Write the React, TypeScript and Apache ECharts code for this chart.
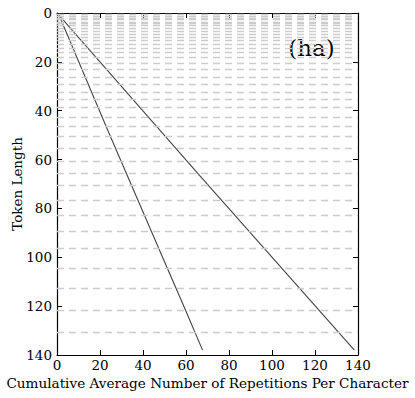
import React, { useEffect, useRef } from "react";
import * as echarts from "echarts";

const xTicks = [0, 20, 40, 60, 80, 100, 120, 140];
const yTicks = [0, 20, 40, 60, 80, 100, 120, 140];

// Line A (steep): [repetitions, token length]
const lineA: [number, number][] = [
  [1, 1],
  [23.5, 47.8],
  [49.6, 101],
  [59.7, 121.5],
  [67.7, 138],
];
// Line B (diagonal)
const lineB: [number, number][] = [
  [1, 1],
  [66.7, 66.9],
  [138.3, 138],
];
// Dashed horizontal reference levels (token length)
const hLevels = [
  0.7, 1.4, 2.0, 2.7, 3.6, 4.4, 5.2, 6.3, 7.5, 8.6, 9.8, 11.2, 12.7, 14.5, 16.1,
  18.0, 20.4, 23.0, 26.2, 29.3, 32.3, 35.5, 38.7, 42.5, 46.4, 50.5, 55.5, 60.5,
  65.5, 70.5, 76.6, 82.8, 89.5, 96.5, 104.5, 112.6, 121.6, 130.7,
];
const panelLabel = "(ha)";
const xName = "Cumulative Average Number of Repetitions Per Character";
const yName = "Token Length";

const FONT = "DejaVu Serif";

export default function App() {
  const ref = useRef<HTMLDivElement>(null);
  useEffect(() => {
    document.body.style.margin = "0";
    const chart = echarts.init(ref.current!, null, { renderer: "svg" });
    const axisCommon = {
      min: 0,
      max: 140,
      interval: 20,
      axisLine: { show: true, onZero: false, lineStyle: { color: "#000", width: 1.2 } },
      axisTick: { show: true, inside: true, length: 5, lineStyle: { color: "#000" } },
      splitLine: { show: false },
    };
    chart.setOption({
      animation: false,
      backgroundColor: "#fff",
      textStyle: { fontFamily: FONT },
      grid: { left: 57, top: 13, width: 301, height: 342, containLabel: false, outerBoundsMode: "none" },
      xAxis: [
        {
          type: "value",
          position: "bottom",
          ...axisCommon,
          axisLabel: { show: true, color: "#000", fontFamily: FONT, fontSize: 13.5, margin: 3, formatter: (v: number) => (xTicks.includes(v) ? String(v) : "") },
          name: xName,
          nameLocation: "middle",
          nameGap: 21,
          nameMoveOverlap: false,
          nameTextStyle: { color: "#000", fontFamily: FONT, fontSize: 13.6 },
        },
        {
          type: "value",
          position: "top",
          ...axisCommon,
          axisLabel: { show: false },
        },
      ],
      yAxis: [
        {
          type: "value",
          position: "left",
          inverse: true,
          ...axisCommon,
          axisLabel: { show: true, color: "#000", fontFamily: FONT, fontSize: 13.5, margin: 5, formatter: (v: number) => (yTicks.includes(v) ? String(v) : "") },
          name: yName,
          nameLocation: "middle",
          nameGap: 33,
          nameMoveOverlap: false,
          nameTextStyle: { color: "#000", fontFamily: FONT, fontSize: 13.5 },
        },
        {
          type: "value",
          position: "right",
          inverse: true,
          ...axisCommon,
          axisLabel: { show: false },
        },
      ],
      graphic: [
        {
          type: "text",
          x: 311.5,
          y: 48,
          style: {
            text: panelLabel,
            fontFamily: FONT,
            fontSize: 23,
            fill: "#000",
            align: "center",
            verticalAlign: "middle",
          },
        },
      ],
      series: [
        {
          type: "line",
          data: [],
          silent: true,
          z: 1,
          markLine: {
            silent: true,
            symbol: "none",
            label: { show: false },
            lineStyle: { type: [7, 5], color: "#cccccc", width: 1.3 },
            data: hLevels.map((v) => ({ yAxis: v })),
          },
        },
        {
          type: "line",
          data: lineA,
          showSymbol: false,
          symbol: "none",
          z: 3,
          lineStyle: { color: "#444", width: 1.1 },
        },
        {
          type: "line",
          data: lineB,
          showSymbol: false,
          symbol: "none",
          z: 3,
          lineStyle: { color: "#444", width: 1.1 },
        },
      ],
    });
    return () => chart.dispose();
  }, []);
  return <div ref={ref} style={{ width: 415, height: 398 }} />;
}
